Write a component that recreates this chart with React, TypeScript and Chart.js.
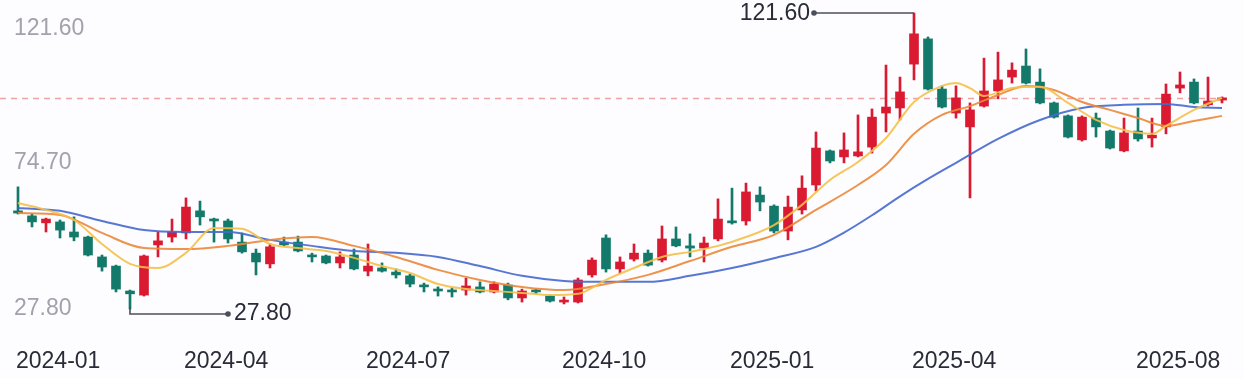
import React, { useEffect, useRef } from 'react';
import { Chart, registerables } from 'chart.js';

Chart.register(...registerables);

// Weekly candles, 2024-01 .. 2025-08
const opens = [58.9, 57.3, 55.1, 55.4, 52.2, 50.6, 44.3, 41.4, 33.5, 32.2, 48.1, 50.6, 51.9, 58.9, 56.0, 55.7, 49.0, 45.5, 42.1, 49.0, 49.0, 44.9, 44.6, 42.4, 44.9, 39.8, 40.8, 39.5, 38.3, 35.1, 33.8, 33.5, 33.8, 34.8, 33.2, 35.4, 31.3, 33.4, 31.9, 30.0, 30.0, 38.6, 50.3, 40.5, 43.6, 45.5, 43.3, 50.0, 47.8, 47.1, 50.0, 55.7, 55.7, 63.9, 60.4, 52.5, 59.2, 67.1, 77.9, 76.0, 76.3, 79.1, 89.9, 91.5, 105.4, 113.4, 97.5, 89.9, 85.5, 92.1, 96.9, 101.3, 104.8, 99.7, 93.1, 89.0, 81.4, 88.3, 84.2, 77.9, 84.2, 82.0, 85.5, 97.8, 99.7, 92.5, 94.0];
const highs = [66.5, 57.9, 56.6, 56.0, 57.0, 50.9, 44.9, 41.7, 33.8, 44.9, 52.2, 56.3, 63.0, 62.0, 56.6, 56.3, 51.9, 46.8, 48.4, 50.6, 50.9, 45.5, 44.9, 45.9, 46.8, 48.4, 42.4, 40.5, 38.9, 36.0, 34.8, 34.5, 37.6, 36.4, 36.4, 36.0, 34.1, 34.1, 32.2, 31.6, 37.6, 44.0, 51.3, 44.3, 48.4, 46.5, 54.1, 53.8, 51.6, 50.6, 62.7, 66.1, 67.7, 66.5, 60.8, 63.6, 70.0, 83.9, 78.2, 83.6, 89.3, 91.2, 105.1, 101.3, 121.6, 114.0, 98.5, 98.5, 93.1, 107.3, 109.2, 105.8, 110.2, 103.9, 93.4, 89.3, 89.0, 89.9, 84.5, 88.3, 91.5, 88.3, 99.1, 102.9, 100.7, 101.3, 95.0];
const lows = [57.9, 53.8, 52.2, 50.3, 49.4, 44.6, 39.8, 33.2, 27.8, 31.9, 44.3, 49.0, 50.0, 54.4, 49.0, 48.7, 45.5, 38.6, 40.8, 47.8, 45.9, 42.7, 42.1, 40.8, 40.2, 38.3, 39.5, 37.6, 34.8, 33.2, 31.9, 31.6, 32.2, 32.9, 32.9, 30.7, 30.0, 32.6, 30.0, 29.4, 29.7, 37.9, 39.5, 39.2, 43.0, 41.4, 42.7, 47.5, 44.3, 42.7, 49.4, 54.7, 54.4, 58.9, 51.9, 49.7, 57.9, 65.2, 74.1, 74.1, 76.0, 77.2, 83.9, 87.7, 100.4, 97.2, 91.5, 88.3, 63.0, 91.8, 94.4, 99.4, 99.1, 92.8, 88.3, 82.0, 81.0, 82.3, 78.5, 77.6, 81.0, 79.1, 83.3, 96.3, 92.8, 92.1, 93.1];
const closes = [58.2, 55.4, 56.3, 52.8, 50.6, 44.9, 41.1, 34.1, 32.6, 44.6, 49.4, 52.2, 60.1, 57.0, 55.7, 50.0, 45.9, 42.7, 47.5, 48.1, 46.2, 44.3, 42.4, 44.3, 40.5, 41.4, 39.8, 38.6, 35.7, 34.8, 33.5, 33.2, 35.1, 33.2, 35.7, 31.3, 33.5, 33.2, 30.3, 30.3, 37.0, 43.3, 40.5, 42.7, 45.5, 41.7, 50.0, 47.8, 47.1, 48.7, 56.3, 55.1, 64.9, 61.7, 52.5, 60.1, 66.1, 78.8, 74.7, 78.2, 77.6, 88.6, 91.8, 96.6, 115.0, 97.5, 91.8, 94.7, 90.9, 96.9, 100.4, 103.5, 99.4, 93.1, 88.6, 82.3, 88.6, 85.5, 78.8, 83.6, 81.7, 82.9, 95.9, 98.8, 93.1, 93.7, 94.7];

// Moving averages (candle index -> value)
const maFastIdx = [0, 2, 4, 6, 8, 10, 12, 14, 16, 18, 20, 22, 24, 26, 28, 30, 32, 34, 36, 38, 40, 41, 42, 44, 46, 48, 50, 52, 54, 56, 58, 60, 62, 64, 66, 67, 68, 69, 71, 73, 75, 77, 79, 81, 82, 84, 86];
const maFastVal = [61.4, 59.2, 56.0, 48.4, 42.1, 40.8, 45.6, 53.5, 53.2, 48.4, 47.1, 46.2, 44.0, 41.4, 39.2, 35.7, 34.1, 33.5, 32.9, 32.2, 32.6, 34.5, 37.0, 40.8, 44.3, 45.9, 47.8, 50.6, 54.4, 60.8, 68.7, 74.4, 82.0, 93.4, 98.5, 99.4, 97.8, 95.3, 97.8, 98.2, 93.1, 87.7, 84.5, 83.3, 85.8, 90.9, 94.7];
const maMidIdx = [0, 3, 6, 9, 12, 15, 18, 21, 24, 27, 30, 33, 36, 39, 42, 45, 48, 51, 54, 57, 60, 62, 64, 66, 68, 70, 72, 74, 76, 78, 80, 82, 84, 86];
const maMidVal = [58.2, 57.6, 51.9, 47.1, 46.8, 47.8, 49.7, 50.6, 47.8, 44.3, 40.2, 37.0, 34.8, 33.8, 35.7, 38.6, 43.0, 47.5, 51.3, 59.2, 67.1, 73.4, 83.3, 89.3, 92.1, 95.6, 98.5, 97.2, 93.4, 90.9, 88.3, 85.8, 87.4, 89.0];
const maSlowIdx = [0, 3, 6, 9, 12, 15, 18, 21, 24, 27, 30, 33, 36, 39, 42, 45, 48, 51, 54, 57, 59, 61, 63, 65, 67, 70, 73, 76, 79, 82, 84, 86];
const maSlowVal = [59.8, 58.9, 55.7, 52.8, 52.2, 52.2, 49.7, 47.8, 46.2, 45.6, 44.3, 41.4, 38.3, 36.7, 36.4, 36.4, 38.3, 40.8, 43.9, 47.5, 52.0, 57.5, 63.5, 69.0, 74.1, 81.7, 87.7, 91.5, 92.5, 92.8, 91.8, 91.5];

const xTickIndex = [0, 12, 25, 39, 51, 64, 80];
const xTickLabels = ['2024-01', '2024-04', '2024-07', '2024-10', '2025-01', '2025-04', '2025-08'];
const yTickLabels = [121.6, 74.7, 27.8];

const RED = '#d91a31';
const GREEN = '#13796a';
const FONT = '"Liberation Sans", Arial, sans-serif';

const overlayPlugin = {
  id: 'overlay',
  beforeDatasetsDraw(chart: any) {
    const { ctx } = chart;
    const xs = chart.scales.x;
    const ys = chart.scales.y;
    const last = closes[closes.length - 1];
    const py = Math.round(ys.getPixelForValue(last)) + 0.5;
    ctx.save();
    ctx.strokeStyle = '#eea3a3';
    ctx.lineWidth = 1.3;
    ctx.setLineDash([6, 5]);
    ctx.beginPath();
    ctx.moveTo(0, py);
    ctx.lineTo(xs.getPixelForValue(closes.length - 1) + 10, py);
    ctx.stroke();
    ctx.restore();
  },
  afterDatasetsDraw(chart: any) {
    const { ctx } = chart;
    const xs = chart.scales.x;
    const ys = chart.scales.y;
    ctx.save();
    let hi = 0;
    highs.forEach((h, i) => { if (h > highs[hi]) hi = i; });
    let lo = 0;
    lows.forEach((l, i) => { if (l < lows[lo]) lo = i; });
    ctx.strokeStyle = '#4b4f5c';
    ctx.fillStyle = '#4b4f5c';
    ctx.lineWidth = 1.6;
    const hx = xs.getPixelForValue(hi);
    const hy = ys.getPixelForValue(highs[hi]);
    ctx.beginPath();
    ctx.moveTo(hx, hy);
    ctx.lineTo(hx - 100, hy);
    ctx.stroke();
    ctx.beginPath();
    ctx.arc(hx - 100, hy, 2.8, 0, Math.PI * 2);
    ctx.fill();
    ctx.font = '23px ' + FONT;
    ctx.fillStyle = '#2a2a38';
    ctx.textAlign = 'right';
    ctx.textBaseline = 'middle';
    ctx.fillText(highs[hi].toFixed(2), hx - 104, hy + 1);

    const lx = xs.getPixelForValue(lo);
    const ly = ys.getPixelForValue(lows[lo]);
    ctx.strokeStyle = '#4b4f5c';
    ctx.fillStyle = '#4b4f5c';
    ctx.beginPath();
    ctx.moveTo(lx, ly - 2);
    ctx.lineTo(lx, ly + 5);
    ctx.lineTo(lx + 98, ly + 5);
    ctx.stroke();
    ctx.beginPath();
    ctx.arc(lx + 98, ly + 5, 2.8, 0, Math.PI * 2);
    ctx.fill();
    ctx.fillStyle = '#2a2a38';
    ctx.textAlign = 'left';
    ctx.fillText(lows[lo].toFixed(2), lx + 104, ly + 5);

    ctx.fillStyle = '#a2a2ad';
    ctx.textAlign = 'left';
    yTickLabels.forEach((v, i) => {
      const y = ys.getPixelForValue(v);
      if (i === 0) {
        ctx.textBaseline = 'top';
        ctx.fillText(v.toFixed(2), 14, y + 4);
      } else {
        ctx.textBaseline = 'middle';
        ctx.fillText(v.toFixed(2), 14, i === yTickLabels.length - 1 ? y : y + 2);
      }
    });

    ctx.fillStyle = '#2b2b38';
    ctx.textBaseline = 'middle';
    xTickIndex.forEach((idx, i) => {
      ctx.fillText(xTickLabels[i], xs.getPixelForValue(idx) - 2, 362);
    });
    ctx.restore();
  },
};

export default function App() {
  const ref = useRef<HTMLCanvasElement | null>(null);
  useEffect(() => {
    if (!ref.current) return;
    const colors = opens.map((o, i) => (closes[i] >= o ? RED : GREEN));
    const line = (idx: number[], val: number[], color: string, order: number) => ({
      type: 'line' as const,
      data: idx.map((x, i) => ({ x, y: val[i] })),
      borderColor: color,
      borderWidth: 2,
      pointRadius: 0,
      cubicInterpolationMode: 'monotone' as const,
      fill: false,
      order,
    });
    const chart = new Chart(ref.current, {
      type: 'bar',
      data: {
        datasets: [
          line(maFastIdx, maFastVal, 'rgba(244,192,74,0.9)', 0),
          line(maMidIdx, maMidVal, 'rgba(236,135,56,0.9)', 1),
          line(maSlowIdx, maSlowVal, 'rgba(70,104,206,0.9)', 2),
          {
            type: 'bar',
            data: opens.map((o, i) => ({ x: i, y: [o, closes[i]] })) as any,
            backgroundColor: colors,
            barThickness: 9,
            minBarLength: 2,
            grouped: false,
            order: 4,
          } as any,
          {
            type: 'bar',
            data: lows.map((l, i) => ({ x: i, y: [l, highs[i]] })) as any,
            backgroundColor: colors,
            barThickness: 2,
            grouped: false,
            order: 5,
          } as any,
        ],
      },
      options: {
        animation: false,
        responsive: true,
        maintainAspectRatio: false,
        layout: { padding: { left: 11, right: 15, top: 0, bottom: 0 } },
        plugins: { legend: { display: false }, tooltip: { enabled: false } },
        scales: {
          x: { type: 'linear', min: -0.5, max: 86.5, offset: false, display: false },
          y: { type: 'linear', min: 5.93, max: 125.72, display: false },
        },
      },
      plugins: [overlayPlugin],
    });
    return () => chart.destroy();
  }, []);
  return (
    <div style={{ position: 'fixed', left: 0, top: 0, width: 1244, height: 378, background: '#fdfdff' }}>
      <canvas ref={ref} />
    </div>
  );
}
